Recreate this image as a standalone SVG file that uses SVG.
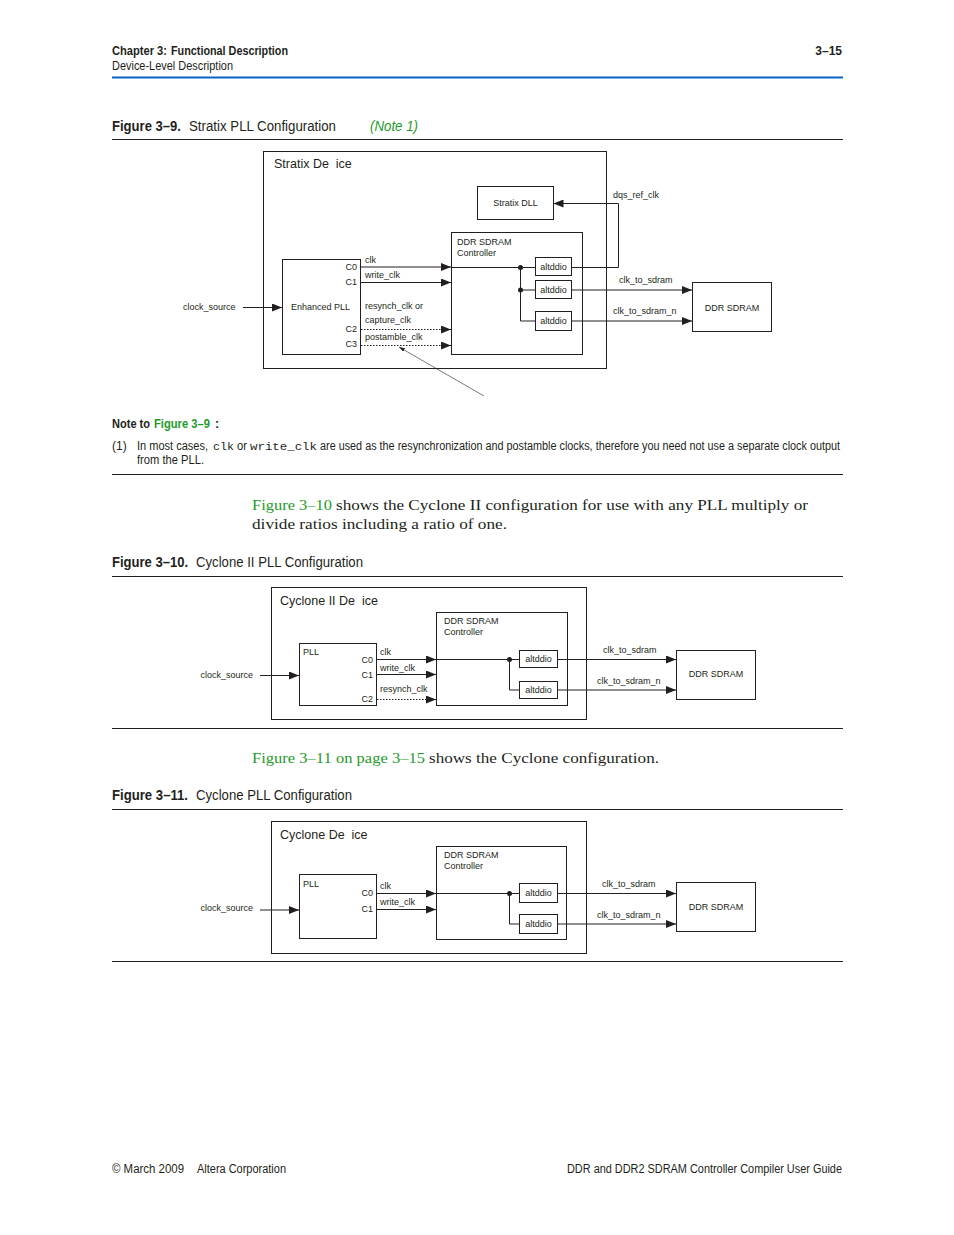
<svg xmlns="http://www.w3.org/2000/svg" width="954" height="1235" viewBox="0 0 954 1235">
<defs>
<marker id="arr" markerUnits="userSpaceOnUse" markerWidth="10" markerHeight="8" refX="10" refY="4" orient="auto"><path d="M0,0 L10,4 L0,8 z" fill="#231f20"/></marker>
<marker id="arrs" markerUnits="userSpaceOnUse" markerWidth="6" markerHeight="4" refX="6" refY="2" orient="auto"><path d="M0,0 L6,2 L0,4 z" fill="#231f20"/></marker>
<style>
.n{font-family:"Liberation Sans Narrow","Liberation Sans",sans-serif;fill:#231f20}
.b{font-weight:bold}
.s{font-family:"Liberation Serif",serif;fill:#231f20;font-size:15.5px}
.d{font-family:"Liberation Sans",Arial,sans-serif;fill:#231f20;font-size:9px}
.t{font-family:"Liberation Sans",Arial,sans-serif;fill:#231f20;font-size:12.5px}
.m{font-family:"Liberation Mono",monospace;fill:#231f20}
.g{fill:#1f9a2a}
.box{fill:none;stroke:#231f20;stroke-width:1}
.ln{fill:none;stroke:#231f20;stroke-width:1}
.dot{fill:none;stroke:#231f20;stroke-width:1;stroke-dasharray:1.5,1.5}
.rule{stroke:#231f20;stroke-width:1}
</style>
</defs>
<rect width="954" height="1235" fill="#ffffff"/>

<g id="header">
<text class="n b" x="112" y="55" font-size="12" textLength="55" lengthAdjust="spacingAndGlyphs">Chapter 3:</text>
<text class="n b" x="171" y="55" font-size="12" textLength="117" lengthAdjust="spacingAndGlyphs">Functional Description</text>
<text class="n b" x="842" y="55" font-size="12" text-anchor="end">3–15</text>
<text class="n" x="112" y="70" font-size="12" textLength="121" lengthAdjust="spacingAndGlyphs">Device-Level Description</text>
<line x1="112" y1="77.5" x2="843" y2="77.5" stroke="#0a64c8" stroke-width="2"/>
</g>

<g id="caption39">
<text class="n b" x="112" y="131" font-size="14" textLength="69" lengthAdjust="spacingAndGlyphs">Figure 3–9.</text>
<text class="n" x="189" y="131" font-size="14" textLength="147" lengthAdjust="spacingAndGlyphs">Stratix PLL Configuration</text>
<text class="n g" x="370" y="131" font-size="14" font-style="italic" textLength="48" lengthAdjust="spacingAndGlyphs">(Note 1)</text>
<line class="rule" x1="112" y1="139.5" x2="843" y2="139.5"/>
</g>

<!-- Figure 3-9 -->
<g id="stratix_device"><rect class="box" x="263.5" y="151.5" width="343" height="217"/><text class="t" x="274" y="168" xml:space="preserve">Stratix De  ice</text></g>
<g id="stratix_dll"><rect class="box" x="477.5" y="186.5" width="76" height="33"/><text class="d" x="515.5" y="206" text-anchor="middle">Stratix DLL</text></g>
<g id="ctrl39"><rect class="box" x="451.5" y="232.5" width="131" height="122"/><text class="d" x="457" y="245">DDR SDRAM</text><text class="d" x="457" y="256">Controller</text></g>
<g id="altddio39a"><rect class="box" x="535.5" y="257.5" width="36" height="18"/><text class="d" x="553.5" y="269.5" text-anchor="middle">altddio</text></g>
<g id="altddio39b"><rect class="box" x="535.5" y="280.5" width="36" height="18"/><text class="d" x="553.5" y="292.5" text-anchor="middle">altddio</text></g>
<g id="altddio39c"><rect class="box" x="535.5" y="311.5" width="36" height="19"/><text class="d" x="553.5" y="324" text-anchor="middle">altddio</text></g>
<g id="epll"><rect class="box" x="282.5" y="259.5" width="78" height="95"/>
<text class="d" x="291" y="310">Enhanced PLL</text>
<text class="d" x="357" y="270" text-anchor="end">C0</text>
<text class="d" x="357" y="285" text-anchor="end">C1</text>
<text class="d" x="357" y="332" text-anchor="end">C2</text>
<text class="d" x="357" y="347" text-anchor="end">C3</text></g>
<g id="sdram39"><rect class="box" x="692.5" y="282.5" width="79" height="49"/><text class="d" x="732" y="311" text-anchor="middle">DDR SDRAM</text></g>

<g id="connectors39">
<line class="ln" x1="243" y1="307.5" x2="282" y2="307.5" marker-end="url(#arr)"/>
<line class="ln" x1="361" y1="267" x2="451" y2="267" stroke-width="2" marker-end="url(#arr)"/>
<line class="ln" x1="451" y1="267.5" x2="535" y2="267.5"/>
<line class="ln" x1="361" y1="282.5" x2="451" y2="282.5" marker-end="url(#arr)"/>
<line class="dot" x1="361" y1="329.5" x2="441" y2="329.5"/>
<line class="ln" x1="441" y1="329.5" x2="451" y2="329.5" stroke="none" marker-end="url(#arr)"/>
<line class="dot" x1="361" y1="345.5" x2="441" y2="345.5"/>
<line class="ln" x1="441" y1="345.5" x2="451" y2="345.5" stroke="none" marker-end="url(#arr)"/>
<circle cx="520.5" cy="267.5" r="2.5" fill="#231f20"/>
<circle cx="520.5" cy="290" r="2.5" fill="#231f20"/>
<polyline class="ln" points="520.5,267.5 520.5,321 535,321"/>
<line class="ln" x1="520.5" y1="290" x2="535" y2="290"/>
<polyline class="ln" points="571,267.5 618.5,267.5 618.5,203.5 553.5,203.5" marker-end="url(#arr)"/>
<line class="ln" x1="571" y1="290" x2="692" y2="290" marker-end="url(#arr)"/>
<line class="ln" x1="571" y1="321" x2="692" y2="321" marker-end="url(#arr)"/>
<line x1="484" y1="396" x2="399" y2="347" stroke="#231f20" stroke-width="0.6" marker-end="url(#arrs)"/>
<text class="d" x="183" y="310">clock_source</text>
<text class="d" x="365" y="263">clk</text>
<text class="d" x="365" y="278">write_clk</text>
<text class="d" x="365" y="309">resynch_clk or</text>
<text class="d" x="365" y="323">capture_clk</text>
<text class="d" x="365" y="340">postamble_clk</text>
<text class="d" x="613" y="198">dqs_ref_clk</text>
<text class="d" x="619" y="283">clk_to_sdram</text>
<text class="d" x="613" y="314">clk_to_sdram_n</text>
</g>

<g id="note39">
<text class="n b" x="112" y="428" font-size="12.5" textLength="38" lengthAdjust="spacingAndGlyphs">Note to</text>
<text class="n b g" x="154" y="428" font-size="12.5" textLength="56" lengthAdjust="spacingAndGlyphs">Figure 3–9</text>
<text class="n b" x="215" y="428" font-size="12.5">:</text>
<text class="n" x="112" y="450" font-size="12">(1)</text>
<text class="n" x="137" y="450" font-size="12" textLength="71" lengthAdjust="spacingAndGlyphs">In most cases,</text>
<text class="m" x="213" y="450" font-size="11" textLength="21" lengthAdjust="spacingAndGlyphs">clk</text>
<text class="n" x="237" y="450" font-size="12" textLength="10" lengthAdjust="spacingAndGlyphs">or</text>
<text class="m" x="250" y="450" font-size="11" textLength="67" lengthAdjust="spacingAndGlyphs">write_clk</text>
<text class="n" x="320" y="450" font-size="12" textLength="520" lengthAdjust="spacingAndGlyphs">are used as the resynchronization and postamble clocks, therefore you need not use a separate clock output</text>
<text class="n" x="137" y="464" font-size="12" textLength="67" lengthAdjust="spacingAndGlyphs">from the PLL.</text>
<line class="rule" x1="112" y1="474.5" x2="843" y2="474.5"/>
</g>

<g id="body1">
<text class="s g" x="252" y="510" textLength="80" lengthAdjust="spacingAndGlyphs">Figure 3–10</text>
<text class="s" x="336" y="510" textLength="472" lengthAdjust="spacingAndGlyphs">shows the Cyclone II configuration for use with any PLL multiply or</text>
<text class="s" x="252" y="529" textLength="255" lengthAdjust="spacingAndGlyphs">divide ratios including a ratio of one.</text>
</g>

<g id="caption310">
<text class="n b" x="112" y="567" font-size="14" textLength="76" lengthAdjust="spacingAndGlyphs">Figure 3–10.</text>
<text class="n" x="196" y="567" font-size="14" textLength="167" lengthAdjust="spacingAndGlyphs">Cyclone II PLL Configuration</text>
<line class="rule" x1="112" y1="576.5" x2="843" y2="576.5"/>
</g>

<!-- Figure 3-10 -->
<g id="cyc2_device"><rect class="box" x="271.5" y="587.5" width="315" height="132"/><text class="t" x="280" y="605" xml:space="preserve">Cyclone II De  ice</text></g>
<g id="pll310"><rect class="box" x="299.5" y="643.5" width="77" height="62"/>
<text class="d" x="303" y="655">PLL</text>
<text class="d" x="373" y="663" text-anchor="end">C0</text>
<text class="d" x="373" y="678" text-anchor="end">C1</text>
<text class="d" x="373" y="702" text-anchor="end">C2</text></g>
<g id="ctrl310"><rect class="box" x="436.5" y="612.5" width="131" height="93"/><text class="d" x="444" y="624">DDR SDRAM</text><text class="d" x="444" y="635">Controller</text></g>
<g id="altddio310a"><rect class="box" x="519.5" y="650.5" width="38" height="17"/><text class="d" x="538.5" y="662" text-anchor="middle">altddio</text></g>
<g id="altddio310b"><rect class="box" x="519.5" y="681.5" width="38" height="17"/><text class="d" x="538.5" y="693" text-anchor="middle">altddio</text></g>
<g id="sdram310"><rect class="box" x="676.5" y="650.5" width="79" height="49"/><text class="d" x="716" y="677" text-anchor="middle">DDR SDRAM</text></g>

<g id="connectors310">
<line class="ln" x1="260" y1="675.5" x2="299" y2="675.5" marker-end="url(#arr)"/>
<line class="ln" x1="377" y1="659.5" x2="436" y2="659.5" marker-end="url(#arr)"/>
<line class="ln" x1="436" y1="659.5" x2="519" y2="659.5"/>
<line class="ln" x1="377" y1="674.5" x2="436" y2="674.5" marker-end="url(#arr)"/>
<line class="dot" x1="377" y1="699.5" x2="426" y2="699.5"/>
<line class="ln" x1="426" y1="699.5" x2="436" y2="699.5" stroke="none" marker-end="url(#arr)"/>
<circle cx="509.5" cy="659.5" r="2.5" fill="#231f20"/>
<polyline class="ln" points="509.5,659.5 509.5,690 519,690"/>
<line class="ln" x1="557" y1="659.5" x2="676" y2="659.5" marker-end="url(#arr)"/>
<line class="ln" x1="557" y1="690" x2="676" y2="690" marker-end="url(#arr)"/>
<text class="d" x="253" y="678" text-anchor="end">clock_source</text>
<text class="d" x="380" y="655">clk</text>
<text class="d" x="380" y="671">write_clk</text>
<text class="d" x="380" y="692">resynch_clk</text>
<text class="d" x="603" y="653">clk_to_sdram</text>
<text class="d" x="597" y="684">clk_to_sdram_n</text>
</g>
<line class="rule" x1="112" y1="728.5" x2="843" y2="728.5"/>

<g id="body2">
<text class="s g" x="252" y="763" textLength="173" lengthAdjust="spacingAndGlyphs">Figure 3–11 on page 3–15</text>
<text class="s" x="429" y="763" textLength="230" lengthAdjust="spacingAndGlyphs">shows the Cyclone configuration.</text>
</g>

<g id="caption311">
<text class="n b" x="112" y="800" font-size="14" textLength="76" lengthAdjust="spacingAndGlyphs">Figure 3–11.</text>
<text class="n" x="196" y="800" font-size="14" textLength="156" lengthAdjust="spacingAndGlyphs">Cyclone PLL Configuration</text>
<line class="rule" x1="112" y1="809.5" x2="843" y2="809.5"/>
</g>

<!-- Figure 3-11 -->
<g id="cyc_device"><rect class="box" x="271.5" y="821.5" width="315" height="132"/><text class="t" x="280" y="839" xml:space="preserve">Cyclone De  ice</text></g>
<g id="pll311"><rect class="box" x="299.5" y="874.5" width="77" height="64"/>
<text class="d" x="303" y="887">PLL</text>
<text class="d" x="373" y="896" text-anchor="end">C0</text>
<text class="d" x="373" y="912" text-anchor="end">C1</text></g>
<g id="ctrl311"><rect class="box" x="436.5" y="846.5" width="130" height="93"/><text class="d" x="444" y="858">DDR SDRAM</text><text class="d" x="444" y="869">Controller</text></g>
<g id="altddio311a"><rect class="box" x="519.5" y="883.5" width="38" height="19"/><text class="d" x="538.5" y="896" text-anchor="middle">altddio</text></g>
<g id="altddio311b"><rect class="box" x="519.5" y="914.5" width="38" height="19"/><text class="d" x="538.5" y="927" text-anchor="middle">altddio</text></g>
<g id="sdram311"><rect class="box" x="676.5" y="882.5" width="79" height="49"/><text class="d" x="716" y="910" text-anchor="middle">DDR SDRAM</text></g>

<g id="connectors311">
<line class="ln" x1="260" y1="910" x2="299" y2="910" marker-end="url(#arr)"/>
<line class="ln" x1="377" y1="893.5" x2="436" y2="893.5" marker-end="url(#arr)"/>
<line class="ln" x1="436" y1="893.5" x2="519" y2="893.5"/>
<line class="ln" x1="377" y1="909.5" x2="436" y2="909.5" marker-end="url(#arr)"/>
<circle cx="509.5" cy="893.5" r="2.5" fill="#231f20"/>
<polyline class="ln" points="509.5,893.5 509.5,924 519,924"/>
<line class="ln" x1="557" y1="893.5" x2="676" y2="893.5" marker-end="url(#arr)"/>
<line class="ln" x1="557" y1="924" x2="676" y2="924" marker-end="url(#arr)"/>
<text class="d" x="253" y="911" text-anchor="end">clock_source</text>
<text class="d" x="380" y="889">clk</text>
<text class="d" x="380" y="905">write_clk</text>
<text class="d" x="602" y="887">clk_to_sdram</text>
<text class="d" x="597" y="918">clk_to_sdram_n</text>
</g>
<line class="rule" x1="112" y1="961.5" x2="843" y2="961.5"/>

<g id="footer">
<text class="n" x="112" y="1173" font-size="12" textLength="72" lengthAdjust="spacingAndGlyphs">© March 2009</text>
<text class="n" x="197" y="1173" font-size="12" textLength="89" lengthAdjust="spacingAndGlyphs">Altera Corporation</text>
<text class="n" x="842" y="1173" font-size="12" text-anchor="end" textLength="275" lengthAdjust="spacingAndGlyphs">DDR and DDR2 SDRAM Controller Compiler User Guide</text>
</g>
</svg>
